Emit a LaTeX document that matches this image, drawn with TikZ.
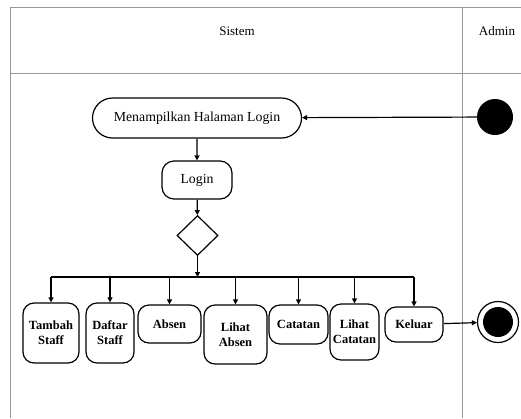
\documentclass[tikz,border=0pt]{standalone}
\usepackage{fontspec}
\setmainfont{Liberation Serif}
\usetikzlibrary{arrows.meta,shapes.geometric,shapes.misc}
\begin{document}
\begin{tikzpicture}[x=1pt,y=-1pt,
  lane/.style={draw=black!40,line width=0.9pt},
  act/.style={draw,line width=1.2pt,rectangle,rounded corners=11pt,align=center,inner sep=1pt,font=\fontsize{12.5}{15}\selectfont\bfseries},
  topact/.style={draw,line width=1.2pt,align=center,inner sep=1pt,font=\fontsize{13.8}{16}\selectfont},
  arr/.style={line width=1.2pt,-{Triangle[length=5pt,width=5pt]}},
  lanehead/.style={font=\fontsize{13}{15}\selectfont}
]
\useasboundingbox (0,0) rectangle (521,418);
% swimlane frame
\draw[lane] (521,7) -- (10,7) -- (10,418);
\draw[lane] (10,73) -- (521,73);
\draw[lane] (462,7) -- (462,418);
\node[lanehead] (sistem) at (237,31) {Sistem};
\node[lanehead] (admin) at (497,31) {Admin};

% initial and final states
\node[circle,fill=black,minimum size=36pt,inner sep=0pt] (start) at (495,117) {};
\node[circle,draw,line width=1.2pt,minimum size=41pt,inner sep=0pt] (stop) at (498,322) {};
\node[circle,fill=black,minimum size=30pt,inner sep=0pt] (stopin) at (stop) {};

% activities
\node[topact,rounded rectangle,minimum width=211pt,minimum height=40pt] (tampil) at (197,118) {Menampilkan Halaman Login};
\node[topact,rectangle,rounded corners=12pt,minimum width=70pt,minimum height=38pt] (login) at (197,180) {Login};
\node[diamond,draw,line width=1.2pt,minimum width=41pt,minimum height=40pt,inner sep=0pt] (pilih) at (197.5,235.5) {};
\coordinate (bar) at (197.5,277);

\node[act,minimum width=56pt,minimum height=60pt] (tambah) at (51,333) {Tambah\\Staff};
\node[act,minimum width=48pt,minimum height=60pt] (daftar) at (110,333) {Daftar\\Staff};
\node[act,minimum width=63pt,minimum height=38pt] (absen) at (169.5,324) {Absen};
\node[act,minimum width=63pt,minimum height=59pt] (lihatabsen) at (235.5,334.5) {Lihat\\Absen};
\node[act,minimum width=59pt,minimum height=39pt] (catatan) at (298.5,324.5) {Catatan};
\node[act,minimum width=49pt,minimum height=56pt] (lihatcatatan) at (354.5,332) {Lihat\\Catatan};
\node[act,minimum width=58pt,minimum height=35pt] (keluar) at (414,324.5) {Keluar};

% flow
\draw[arr] (start) -- (tampil);
\draw[arr] (tampil) -- (login);
\draw[arr] (login) -- (pilih);
\draw[arr] (pilih) -- (bar);
\draw[line width=1.2pt] (bar -| tambah) -- (bar -| keluar);
\foreach \n in {tambah,daftar,absen,lihatabsen,catatan,lihatcatatan,keluar}
  \draw[arr] (bar -| \n) -- (\n);
\draw[arr] (keluar) -- (stop);
\end{tikzpicture}
\end{document}
